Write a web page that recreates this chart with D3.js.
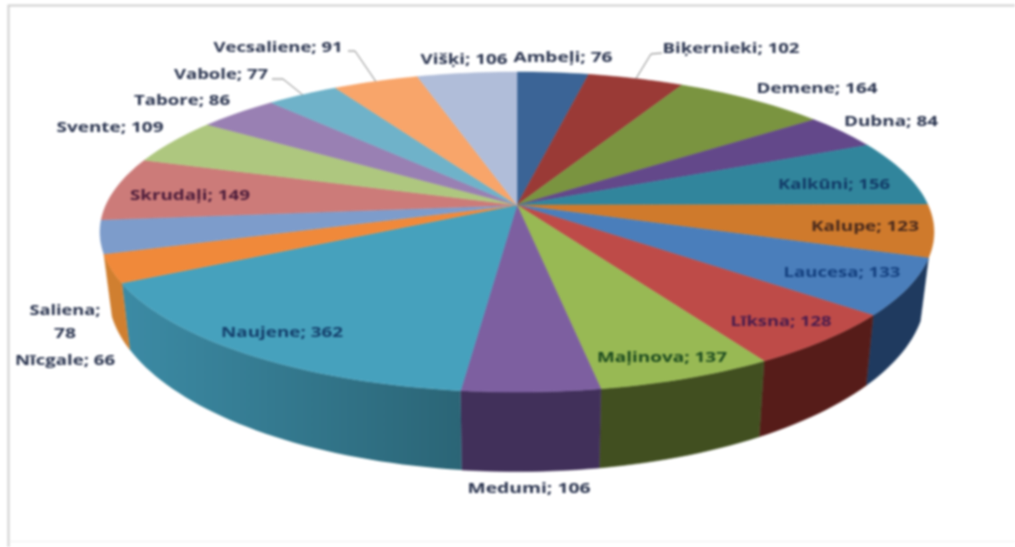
<!DOCTYPE html>
<html>
<head>
<meta charset="utf-8">
<script src="https://cdn.jsdelivr.net/npm/d3@7/dist/d3.min.js"></script>
<style>
  html, body { margin: 0; padding: 0; background: #fff; overflow: hidden; }
  #chart svg { display: block; filter: blur(0.8px); }
  text { font-family: "Open Sans", sans-serif; font-weight: 700; font-size: 14px; }
</style>
</head>
<body>
<div id="chart"></div>
<script>
const width = 1015, height = 547;

// values
const names = ["Ambeļi", "Biķernieki", "Demene", "Dubna", "Kalkūni", "Kalupe", "Laucesa", "Līksna", "Maļinova", "Medumi",
    "Naujene", "Nīcgale", "Saliena", "Skrudaļi", "Svente", "Tabore", "Vabole", "Vecsaliene", "Višķi"];
const values = [76, 102, 164, 84, 156, 123, 133, 128, 137, 106, 362, 66, 78, 149, 109, 86, 77, 91, 106];

const topColors = ["#3b6496", "#9a3a36", "#7a9440", "#63488a", "#31859c", "#cf7a2c", "#4a7ebb", "#be4b48", "#98b954", "#7d5fa0",
    "#46a1bd", "#f0893a", "#7d9ccb", "#cc7b79", "#aec77f", "#9980b3", "#6fb2c9", "#f8a56a", "#b0bdd9"];
const sideColors = ["#2a4668", "#6a2725", "#55672c", "#43305f", "#22606f", "#99591e", "#1f3a5f", "#561c19", "#414f20", "#41305a",
    "#3c8ba5", "#d07f30", "#56709a", "#8f5554", "#79895a", "#6a587c", "#4d7c8c", "#ad734a", "#7a8397"];
const textColors = { "Kalkūni": "#123c68", "Kalupe": "#4a2a1c", "Laucesa": "#14407f", "Līksna": "#4a1c4c",
    "Maļinova": "#1e4c20", "Naujene": "#14406c", "Skrudaļi": "#4c1c3a" };

// label layout: centre x, centre y, text width
const labelLayout = {
    "Ambeļi": [563, 57, 99], "Biķernieki": [731, 48, 137], "Demene": [817, 88, 121], "Dubna": [891, 121, 94],
    "Kalkūni": [834, 184, 112], "Kalupe": [865, 226, 108], "Laucesa": [842, 272, 117], "Līksna": [781, 321, 101],
    "Maļinova": [662, 357, 130], "Medumi": [529, 488, 123], "Naujene": [282, 332, 122], "Nīcgale": [65, 360, 100],
    "Skrudaļi": [190, 195, 120], "Svente": [110, 127, 107], "Tabore": [182, 100, 96], "Vabole": [221, 74, 94],
    "Vecsaliene": [278, 47, 129], "Višķi": [464, 59, 87]
};
// leader lines start next to the label and end at the slice rim
const leaders = { "Vecsaliene": [[348, 51], [355, 51]], "Vabole": [[272, 79], [283, 79]], "Biķernieki": [[662, 53], [651, 54]] };

// perspective of the disc, fitted on the slice corners in the picture
const cx = 517, cy = 205, rx = 411, ry = 155.5, tilt = 0.169;
const depthShift = 57, depthScaleX = 0.98, depthScaleY = 1.12;

function rim(a) {
    const u = Math.sin(a), v = -Math.cos(a), d = 1 - tilt * v;
    return [cx + rx * u / d, cy + ry * v / d];
}
function lowerRim(a) {
    const [x, y] = rim(a);
    return [cx + depthScaleX * (x - cx), cy + depthShift + depthScaleY * (y - cy)];
}

const arcs = d3.pie().sort(null)(values);
const line = d3.line();

function samples(d) {
    const n = Math.max(2, Math.ceil((d.endAngle - d.startAngle) * 40));
    return d3.range(n + 1).map(i => d.startAngle + (d.endAngle - d.startAngle) * i / n);
}

const svg = d3.select("#chart").append("svg")
    .attr("width", width)
    .attr("height", height);

// frame of the pasted chart
svg.append("path").attr("d", "M8.5,547V5.5H1015").attr("fill", "none").attr("stroke", "#cfcfcf").attr("stroke-width", 2);
svg.append("path").attr("d", "M9,541.5H1015").attr("fill", "none").attr("stroke", "#efefef");

const defs = svg.append("defs");
const naujeneGrad = defs.append("linearGradient").attr("id", "naujeneSide")
    .attr("gradientUnits", "userSpaceOnUse")
    .attr("x1", 120).attr("x2", 462).attr("y1", 0).attr("y2", 0);
naujeneGrad.append("stop").attr("offset", 0).attr("stop-color", "#3c8ba5");
naujeneGrad.append("stop").attr("offset", 1).attr("stop-color", "#2b6576");

// side wall, only slices well in the front of the disc show it
const front = arcs.map((d, i) => ({ d, i }))
    .filter(o => -Math.cos((o.d.startAngle + o.d.endAngle) / 2) > 0.3);

svg.append("g").selectAll("path")
    .data(front)
    .enter()
    .append("path")
    .attr("d", o => {
        const as = samples(o.d);
        return line(as.map(rim).concat(as.slice().reverse().map(lowerRim))) + "Z";
    })
    .attr("fill", o => names[o.i] === "Naujene" ? "url(#naujeneSide)" : sideColors[o.i])
    .attr("stroke", o => names[o.i] === "Naujene" ? "none" : sideColors[o.i])
    .attr("stroke-width", 0.5);

// top face
svg.append("g").selectAll("path")
    .data(arcs)
    .enter()
    .append("path")
    .attr("d", d => line([[cx, cy]].concat(samples(d).map(rim))) + "Z")
    .attr("fill", (d, i) => topColors[i])
    .attr("stroke", (d, i) => topColors[i])
    .attr("stroke-width", 0.5);

// leader lines
svg.append("g").selectAll("path")
    .data(Object.keys(leaders))
    .enter()
    .append("path")
    .attr("d", n => {
        const d = arcs[names.indexOf(n)];
        return line(leaders[n].concat([rim((d.startAngle + d.endAngle) / 2)]));
    })
    .attr("fill", "none")
    .attr("stroke", "#7f7f7f")
    .attr("stroke-width", 1);

// data labels
svg.append("g").selectAll("text")
    .data(Object.keys(labelLayout))
    .enter()
    .append("text")
    .attr("x", n => labelLayout[n][0])
    .attr("y", n => labelLayout[n][1])
    .attr("dy", "0.35em")
    .attr("text-anchor", "middle")
    .attr("textLength", n => labelLayout[n][2])
    .attr("lengthAdjust", "spacingAndGlyphs")
    .attr("fill", n => textColors[n] || "#2b3550")
    .text(n => n + "; " + values[names.indexOf(n)]);

// Saliena wraps on two lines
const salienaValue = values[names.indexOf("Saliena")];
svg.append("text").attr("x", 65).attr("y", 310).attr("dy", "0.35em").attr("text-anchor", "middle")
    .attr("textLength", 71).attr("lengthAdjust", "spacingAndGlyphs").attr("fill", "#2b3550").text("Saliena;");
svg.append("text").attr("x", 65).attr("y", 333).attr("dy", "0.35em").attr("text-anchor", "middle")
    .attr("textLength", 22).attr("lengthAdjust", "spacingAndGlyphs").attr("fill", "#2b3550").text(salienaValue);
</script>
</body>
</html>
